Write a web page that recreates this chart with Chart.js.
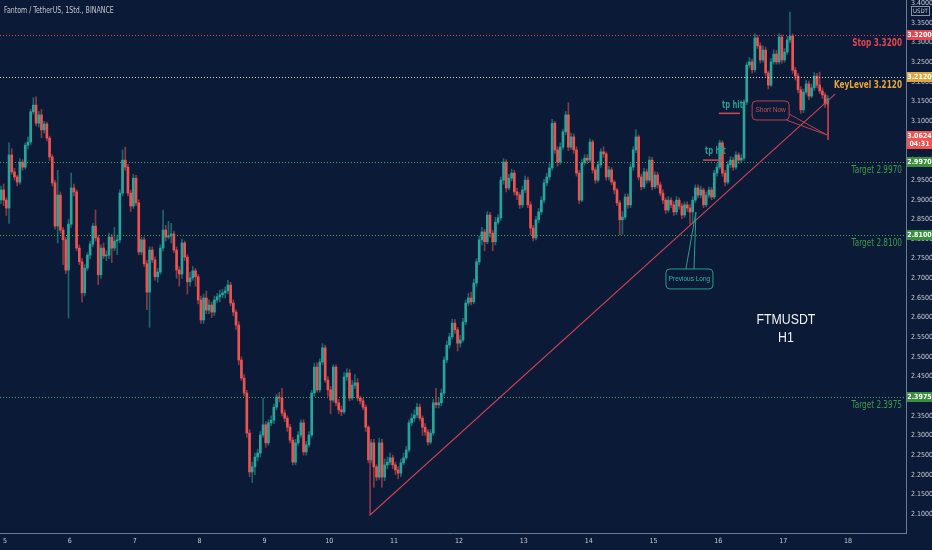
<!DOCTYPE html>
<html>
<head>
<meta charset="utf-8">
<script src="https://cdn.jsdelivr.net/npm/chart.js@4.4.1/dist/chart.umd.min.js"></script>
<style>
  html, body { margin: 0; padding: 0; background: #0b1a37; overflow: hidden; }
  #wrap { width: 932px; height: 550px; position: relative; }
</style>
</head>
<body>
<div id="wrap"><canvas id="chart"></canvas></div>
<script>
// FTM/USDT 1h candles (open = previous close)
const dayLabels = ['5', '6', '7', '8', '9', '10', '11', '12', '13', '14', '15', '16', '17', '18'];
const firstHour = -1.5;   // hours after 00:00 of day 5
const firstOpen = 2.900;

const closes = [
  2.925,2.899,2.879,3.014,2.971,2.958,2.945,2.996,2.983,3.039,
  3.047,3.124,3.141,3.095,3.116,3.078,3.093,3.057,3.009,2.943,
  2.833,2.912,2.823,2.798,2.721,2.838,2.930,2.920,2.777,2.742,
  2.663,2.726,2.759,2.787,2.833,2.803,2.709,2.777,2.757,2.759,
  2.805,2.777,2.795,2.798,2.917,3.001,2.983,2.917,2.884,2.955,
  2.892,2.767,2.798,2.737,2.665,2.772,2.747,2.704,2.716,2.777,
  2.823,2.805,2.808,2.813,2.772,2.721,2.711,2.790,2.754,2.691,
  2.701,2.719,2.704,2.645,2.594,2.650,2.619,2.632,2.614,2.645,
  2.653,2.658,2.663,2.668,2.683,2.637,2.614,2.581,2.492,2.446,
  2.408,2.306,2.207,2.220,2.245,2.255,2.301,2.327,2.281,2.332,
  2.339,2.372,2.398,2.395,2.357,2.344,2.321,2.288,2.232,2.281,
  2.301,2.332,2.258,2.276,2.301,2.408,2.474,2.416,2.487,2.523,
  2.441,2.416,2.390,2.474,2.383,2.365,2.360,2.449,2.459,2.395,
  2.428,2.434,2.395,2.388,2.372,2.321,2.238,2.281,2.220,2.194,
  2.281,2.194,2.225,2.232,2.243,2.225,2.212,2.204,2.230,2.243,
  2.263,2.332,2.344,2.352,2.372,2.344,2.321,2.309,2.283,2.306,
  2.383,2.378,2.383,2.408,2.492,2.530,2.551,2.586,2.569,2.535,
  2.543,2.589,2.637,2.650,2.640,2.688,2.742,2.798,2.818,2.793,
  2.861,2.815,2.793,2.843,2.854,2.950,2.996,2.930,2.955,2.968,
  2.920,2.912,2.887,2.925,2.950,2.887,2.828,2.803,2.849,2.869,
  2.899,2.943,2.958,2.981,3.095,3.027,2.996,3.034,3.073,3.116,
  3.034,3.060,3.027,2.968,2.899,2.994,3.006,3.001,3.047,2.976,
  2.950,2.989,3.022,3.017,2.958,2.976,2.945,2.925,2.892,2.849,
  2.856,2.907,2.887,2.983,3.027,3.060,2.958,2.933,2.971,2.950,
  3.001,2.933,2.963,2.938,2.917,2.899,2.874,2.899,2.887,2.869,
  2.899,2.884,2.861,2.887,2.879,2.869,2.899,2.930,2.912,2.925,
  2.887,2.912,2.925,2.907,2.968,2.983,3.045,2.968,2.945,2.989,
  3.001,2.983,3.014,3.001,3.006,3.149,3.243,3.251,3.231,3.312,
  3.292,3.256,3.281,3.223,3.192,3.251,3.271,3.251,3.314,3.256,
  3.276,3.307,3.317,3.230,3.215,3.180,3.129,3.174,3.195,3.164,
  3.185,3.215,3.192,3.177,3.167,3.144,3.157
];

const highs = [
  2.935,2.940,2.905,3.045,3.030,2.980,2.962,3.005,3.002,3.045,
  3.060,3.130,3.160,3.162,3.125,3.130,3.100,3.098,3.062,3.015,
  2.950,2.975,2.920,2.830,2.805,2.850,2.968,2.940,2.925,2.785,
  2.750,2.735,2.765,2.795,2.840,2.874,2.810,2.785,2.790,2.770,
  2.815,2.812,2.830,2.810,2.925,3.027,3.034,2.990,2.925,2.965,
  2.962,2.900,2.805,2.805,2.745,2.780,2.780,2.755,2.725,2.785,
  2.874,2.835,2.845,2.840,2.820,2.780,2.730,2.800,2.795,2.760,
  2.715,2.730,2.725,2.710,2.655,2.660,2.668,2.645,2.640,2.655,
  2.662,2.670,2.672,2.678,2.695,2.690,2.645,2.620,2.590,2.500,
  2.455,2.415,2.315,2.232,2.255,2.265,2.310,2.395,2.335,2.340,
  2.350,2.380,2.405,2.410,2.420,2.365,2.350,2.328,2.295,2.290,
  2.310,2.340,2.340,2.285,2.310,2.415,2.484,2.485,2.495,2.534,
  2.530,2.450,2.425,2.480,2.480,2.392,2.375,2.460,2.470,2.468,
  2.440,2.455,2.445,2.400,2.395,2.378,2.325,2.290,2.290,2.225,
  2.293,2.290,2.240,2.245,2.255,2.250,2.232,2.220,2.240,2.255,
  2.272,2.340,2.355,2.365,2.382,2.380,2.350,2.330,2.315,2.315,
  2.392,2.420,2.395,2.418,2.500,2.540,2.560,2.596,2.595,2.575,
  2.555,2.598,2.645,2.662,2.665,2.698,2.750,2.808,2.830,2.825,
  2.870,2.868,2.822,2.855,2.862,2.958,3.005,3.002,2.965,2.978,
  2.975,2.930,2.918,2.935,2.960,2.958,2.895,2.835,2.858,2.878,
  2.908,2.952,2.968,2.992,3.105,3.100,3.035,3.045,3.080,3.125,
  3.147,3.070,3.068,3.035,2.975,3.002,3.015,3.015,3.055,3.052,
  2.982,2.998,3.030,3.035,3.022,2.985,2.982,2.950,2.930,2.898,
  2.870,2.915,2.915,2.992,3.035,3.078,3.065,2.965,2.980,2.978,
  3.010,3.008,2.972,2.970,2.945,2.925,2.905,2.908,2.905,2.895,
  2.908,2.905,2.890,2.895,2.895,2.888,2.908,2.938,2.938,2.935,
  2.930,2.920,2.932,2.932,2.975,2.992,3.052,3.050,2.975,2.998,
  3.010,3.008,3.022,3.020,3.015,3.155,3.250,3.262,3.258,3.323,
  3.318,3.300,3.292,3.288,3.228,3.260,3.282,3.280,3.323,3.320,
  3.285,3.316,3.378,3.322,3.238,3.222,3.188,3.182,3.205,3.202,
  3.195,3.224,3.222,3.225,3.185,3.172,3.165
];

const lows = [
  2.890,2.885,2.860,2.840,2.965,2.950,2.935,2.940,2.975,2.978,
  3.030,3.040,3.118,3.088,3.085,3.058,3.070,3.050,3.000,2.935,
  2.825,2.790,2.815,2.735,2.712,2.599,2.830,2.910,2.770,2.735,
  2.640,2.655,2.720,2.750,2.780,2.795,2.684,2.700,2.750,2.745,
  2.750,2.740,2.770,2.760,2.790,2.910,2.975,2.910,2.870,2.878,
  2.885,2.760,2.760,2.730,2.620,2.575,2.740,2.695,2.690,2.710,
  2.770,2.795,2.800,2.790,2.765,2.700,2.680,2.700,2.745,2.660,
  2.680,2.695,2.680,2.635,2.585,2.585,2.610,2.610,2.600,2.605,
  2.638,2.640,2.650,2.650,2.660,2.630,2.605,2.570,2.480,2.440,
  2.400,2.295,2.195,2.180,2.200,2.235,2.245,2.295,2.270,2.275,
  2.325,2.330,2.365,2.385,2.350,2.335,2.310,2.280,2.225,2.225,
  2.275,2.295,2.250,2.250,2.270,2.295,2.400,2.410,2.410,2.480,
  2.435,2.400,2.355,2.385,2.375,2.355,2.350,2.355,2.440,2.388,
  2.390,2.420,2.388,2.380,2.365,2.310,2.230,2.230,2.168,2.185,
  2.188,2.168,2.185,2.215,2.225,2.215,2.200,2.190,2.195,2.225,
  2.238,2.258,2.325,2.335,2.345,2.338,2.300,2.300,2.275,2.278,
  2.300,2.370,2.370,2.375,2.400,2.485,2.522,2.545,2.560,2.515,
  2.525,2.538,2.582,2.630,2.632,2.635,2.680,2.735,2.785,2.770,
  2.788,2.805,2.770,2.785,2.838,2.848,2.940,2.920,2.925,2.948,
  2.912,2.900,2.878,2.880,2.918,2.880,2.810,2.795,2.798,2.842,
  2.862,2.892,2.935,2.950,2.975,3.018,2.985,2.990,3.028,3.065,
  3.025,3.028,3.018,2.960,2.890,2.895,2.988,2.992,2.995,2.968,
  2.942,2.945,2.982,3.008,2.950,2.950,2.938,2.915,2.885,2.811,
  2.812,2.850,2.878,2.880,2.975,3.020,2.950,2.925,2.928,2.942,
  2.945,2.925,2.928,2.930,2.910,2.890,2.865,2.868,2.880,2.860,
  2.862,2.876,2.852,2.855,2.870,2.838,2.840,2.892,2.905,2.905,
  2.880,2.882,2.905,2.900,2.902,2.960,2.978,2.960,2.935,2.940,
  2.982,2.975,2.978,2.992,2.995,3.000,3.142,3.235,3.222,3.225,
  3.285,3.248,3.250,3.215,3.182,3.188,3.245,3.245,3.245,3.248,
  3.250,3.270,3.300,3.222,3.205,3.172,3.120,3.122,3.168,3.155,
  3.160,3.178,3.185,3.170,3.158,3.135,3.138
];

// horizontal levels drawn on the chart
const levelNames  = ['Stop', 'KeyLevel', 'Target', 'Target', 'Target'];
const levelPrices = [3.3200, 3.2120, 2.9970, 2.8100, 2.3975];
const lastPrice = 3.0624;
const lastCountdown = '04:31';

const FONT = '"Liberation Sans Narrow", "DejaVu Sans Condensed", "Arial Narrow", sans-serif';
const PLAIN = '"Liberation Sans", Arial, sans-serif';
const BG = '#0b1a37';
const UP = '#26a69a', DOWN = '#ef5350';
const levelColors = ['#e8434e', '#e2d7b0', '#45a84c', '#45a84c', '#45a84c'];
const tagColors = ['#e2464f', '#e0a53c', '#3a8f3f', '#3a8f3f', '#3a8f3f'];
const textColors = ['#e2464f', '#e8a838', '#3e9a47', '#3e9a47', '#3e9a47'];

const opens = closes.map((c, i) => i ? closes[i - 1] : firstOpen);
const hours = closes.map((c, i) => firstHour + i);
const isUp = closes.map((c, i) => c >= opens[i]);

function roundRect(ctx, x, y, w, h, r) {
    ctx.beginPath();
    ctx.moveTo(x + r, y);
    ctx.arcTo(x + w, y, x + w, y + h, r);
    ctx.arcTo(x + w, y + h, x, y + h, r);
    ctx.arcTo(x, y + h, x, y, r);
    ctx.arcTo(x, y, x + w, y, r);
    ctx.closePath();
}

// TradingView uses a narrow face; squeeze the text horizontally
function squeezeText(ctx, text, x, y, sx) {
    ctx.save();
    ctx.translate(x, y);
    ctx.scale(sx, 1);
    ctx.fillText(text, 0, 0);
    ctx.restore();
}

// keep the axes from reserving extra room around the plot
function noPad(scale) {
    scale.paddingLeft = 0;
    scale.paddingRight = 0;
    scale.paddingTop = 0;
    scale.paddingBottom = 0;
}

var overlay = {
    id: 'overlay',
    beforeDraw: function (chart) {
        var ctx = chart.ctx;
        ctx.save();
        ctx.fillStyle = BG;
        ctx.fillRect(0, 0, chart.width, chart.height);
        ctx.restore();
    },
    afterDatasetsDraw: function (chart) {
        var ctx = chart.ctx, a = chart.chartArea;
        var xs = chart.scales.x, ys = chart.scales.y;
        var px = function (h) { return xs.getPixelForValue(h); };
        var py = function (p) { return ys.getPixelForValue(p); };
        ctx.save();

        // dotted levels + their labels
        levelPrices.forEach(function (p, i) {
            var y = Math.round(py(p)) + 0.5;
            ctx.strokeStyle = levelColors[i];
            ctx.lineWidth = 1;
            ctx.setLineDash([1, 2]);
            ctx.beginPath();
            ctx.moveTo(a.left, y);
            ctx.lineTo(a.right, y);
            ctx.stroke();
            ctx.setLineDash([]);
            ctx.fillStyle = textColors[i];
            ctx.font = (i < 2 ? 'bold ' : '') + '11px ' + FONT;
            ctx.textAlign = 'right';
            ctx.textBaseline = 'middle';
            squeezeText(ctx, levelNames[i] + ' ' + p.toFixed(4), a.right - 4, y + 8, 0.74);
        });

        // trend line
        ctx.strokeStyle = '#cf4455';
        ctx.lineWidth = 1.1;
        ctx.beginPath();
        ctx.moveTo(px(135.1), py(2.286));
        ctx.lineTo(px(135.1), py(2.0975));
        ctx.lineTo(px(307.2), py(3.169));
        ctx.stroke();

        // tp hit marks
        ctx.font = 'bold 10px ' + FONT;
        ctx.textAlign = 'left';
        ctx.textBaseline = 'middle';
        [[265.4, 3.141, 264.2, 272.0, 3.120], [259.1, 3.023, 258.3, 265.7, 3.001]].forEach(function (t) {
            ctx.strokeStyle = '#d04a58';
            ctx.lineWidth = 1.5;
            ctx.beginPath();
            ctx.moveTo(px(t[2]), py(t[4]));
            ctx.lineTo(px(t[3]), py(t[4]));
            ctx.stroke();
            ctx.fillStyle = '#2a9d8f';
            squeezeText(ctx, 'tp hit', px(t[0]), py(t[1]), 0.75);
        });

        // "Short Now" callout
        var sx0 = px(276.5), sx1 = px(290.2), sy0 = py(3.1515), sy1 = py(3.1031);
        var tipX = px(304.2), tipY = py(3.065);
        ctx.strokeStyle = '#b8434f';
        ctx.lineWidth = 1;
        ctx.beginPath();
        ctx.moveTo(sx1 - 3, sy1);
        ctx.lineTo(tipX, tipY);
        ctx.lineTo(sx1, sy1 - 6);
        ctx.stroke();
        roundRect(ctx, sx0, sy0, sx1 - sx0, sy1 - sy0, 4);
        ctx.fillStyle = BG;
        ctx.fill();
        ctx.stroke();
        ctx.fillStyle = '#c4505e';
        ctx.font = '6.5px ' + PLAIN;
        ctx.textAlign = 'center';
        ctx.fillText('Short Now', (sx0 + sx1) / 2, (sy0 + sy1) / 2);
        ctx.strokeStyle = '#d8454f';
        ctx.lineWidth = 1.5;
        ctx.beginPath();
        ctx.moveTo(px(304.6), py(3.149));
        ctx.lineTo(px(304.6), py(3.052));
        ctx.stroke();

        // "Previous Long" callout
        var lx0 = px(244.6), lx1 = px(262.0), ly0 = py(2.7238), ly1 = py(2.6729);
        ctx.strokeStyle = '#2a9d8f';
        ctx.lineWidth = 1;
        ctx.beginPath();
        ctx.moveTo(px(252.0), ly0);
        ctx.lineTo(px(255.7), py(2.869));
        ctx.lineTo(px(255.0), ly0);
        ctx.stroke();
        roundRect(ctx, lx0, ly0, lx1 - lx0, ly1 - ly0, 4);
        ctx.fillStyle = BG;
        ctx.fill();
        ctx.stroke();
        ctx.fillStyle = '#3bb5a5';
        ctx.font = '6.5px ' + PLAIN;
        ctx.fillText('Previous Long', (lx0 + lx1) / 2, (ly0 + ly1) / 2);

        // symbol / timeframe
        ctx.fillStyle = '#f2f3f5';
        ctx.font = '14px ' + PLAIN;
        squeezeText(ctx, 'FTMUSDT', px(289), py(2.5939), 0.88);
        squeezeText(ctx, 'H1', px(289), py(2.5481), 0.88);

        ctx.restore();
    },
    afterDraw: function (chart) {
        var ctx = chart.ctx, a = chart.chartArea;
        var ys = chart.scales.y;
        ctx.save();
        ctx.textAlign = 'center';
        ctx.textBaseline = 'middle';
        ctx.font = 'bold 7px ' + FONT;
        levelPrices.forEach(function (p, i) {
            var y = Math.round(ys.getPixelForValue(p));
            ctx.fillStyle = tagColors[i];
            ctx.fillRect(a.right + 1, y - 5, 25, 10);
            ctx.fillStyle = '#ffffff';
            ctx.fillText(p.toFixed(4), a.right + 13.5, y + 0.5);
        });
        var yl = Math.round(ys.getPixelForValue(lastPrice));
        ctx.fillStyle = DOWN;
        ctx.fillRect(a.right + 1, yl - 5, 25, 18);
        ctx.fillStyle = '#ffffff';
        ctx.fillText(lastPrice.toFixed(4), a.right + 13.5, yl + 0.5);
        ctx.fillText(lastCountdown, a.right + 13.5, yl + 8.5);

        // currency box
        ctx.fillStyle = BG;
        ctx.fillRect(a.right + 5, 6, 19, 10);
        ctx.strokeStyle = '#8a93a6';
        ctx.lineWidth = 1;
        ctx.strokeRect(a.right + 5.5, 6.5, 18, 9);
        ctx.fillStyle = '#c9ccd4';
        ctx.font = '6px ' + FONT;
        ctx.fillText('USDT', a.right + 14.5, 11.5);

        // header
        ctx.textAlign = 'left';
        ctx.fillStyle = '#c3c7d0';
        ctx.font = '8.5px ' + FONT;
        squeezeText(ctx, 'Fantom / TetherUS, 1Std., BINANCE', 4, 11, 0.82);
        ctx.restore();
    }
};

document.addEventListener('DOMContentLoaded', function () {
    var ctx = document.getElementById('chart').getContext('2d');
    var candleChart = new Chart(ctx, {
        type: 'bar',
        data: {
            datasets: [
                {
                    label: 'wick',
                    data: hours.map(function (h, i) { return { x: h, y: [lows[i], highs[i]] }; }),
                    backgroundColor: isUp.map(function (u) { return u ? 'rgba(38,166,154,0.55)' : 'rgba(239,83,80,0.55)'; }),
                    barThickness: 1,
                    grouped: false,
                    order: 2
                },
                {
                    label: 'body',
                    data: hours.map(function (h, i) { return { x: h, y: [opens[i], closes[i]] }; }),
                    backgroundColor: isUp.map(function (u) { return u ? UP : DOWN; }),
                    barThickness: 2,
                    minBarLength: 1,
                    grouped: false,
                    order: 1
                }
            ]
        },
        options: {
            responsive: true,
            maintainAspectRatio: false,
            animation: false,
            events: [],
            layout: { padding: 0, autoPadding: false },
            plugins: {
                legend: { display: false },
                tooltip: { enabled: false }
            },
            scales: {
                x: {
                    type: 'linear',
                    offset: false,
                    min: -1.85,
                    max: 333.45,
                    grid: { display: false, drawTicks: false, offset: false },
                    border: { display: true, color: '#6f7990', width: 1 },
                    afterBuildTicks: function (scale) {
                        scale.ticks = dayLabels.map(function (d, k) { return { value: k * 24 }; });
                    },
                    afterFit: function (scale) { scale.height = 17; noPad(scale); },
                    ticks: {
                        autoSkip: false,
                        maxRotation: 0,
                        padding: 4,
                        color: '#c9ccd4',
                        font: { family: FONT, size: 7 },
                        callback: function (v, i) { return dayLabels[i]; }
                    }
                },
                y: {
                    position: 'right',
                    min: 2.0516,
                    max: 3.4086,
                    grid: { display: false, drawTicks: false },
                    border: { display: true, color: '#6f7990', width: 1 },
                    afterFit: function (scale) { scale.width = 26; noPad(scale); },
                    ticks: {
                        stepSize: 0.05,
                        includeBounds: false,
                        padding: 5,
                        color: '#c9ccd4',
                        font: { family: FONT, size: 7 },
                        callback: function (v) { return v.toFixed(4); }
                    }
                }
            }
        },
        plugins: [overlay]
    });
});
</script>
</body>
</html>
